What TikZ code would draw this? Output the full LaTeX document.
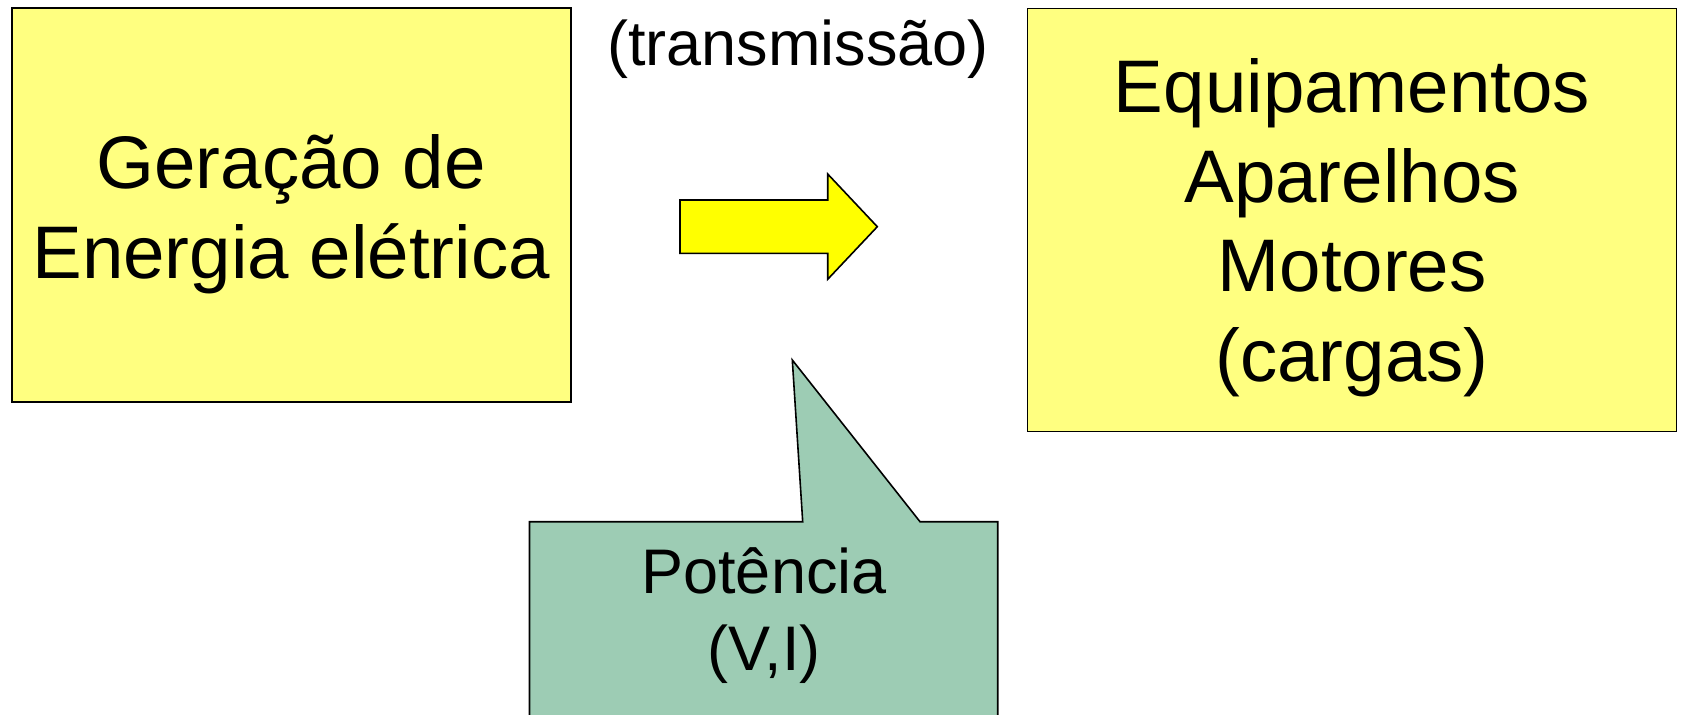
\documentclass[tikz,border=0pt]{standalone}
\usepackage{fontspec}
\setmainfont{Liberation Sans}
\definecolor{boxyellow}{HTML}{FFFF80}
\definecolor{arrowyellow}{HTML}{FFFF00}
\definecolor{calloutgreen}{HTML}{9DCCB4}
\tikzset{
  bigbox/.style={draw=black, line width=1.6pt, fill=boxyellow, inner sep=0pt},
  boxtext/.style={font=\fontsize{74.5}{89.5}\selectfont, align=center, inner sep=0pt, anchor=base},
  labeltext/.style={font=\fontsize{63}{77}\selectfont, align=center, inner sep=0pt, anchor=base}
}
\begin{document}
\begin{tikzpicture}[x=1pt, y=-1pt]
  \useasboundingbox (0,0) rectangle (1682,715);
  \clip (0,0) rectangle (1682,715);

  % source and loads
  \node[bigbox, minimum width=559pt, minimum height=394pt] (gen) at (291.2,204.7) {};
  \node[boxtext] (gentext) at (291.2,278) {Geração de\\Energia elétrica};

  \node[bigbox, minimum width=649pt, minimum height=423pt] (loads) at (1352.1,219.9) {};
  \node[boxtext] (loadstext) at (1352.1,381) {Equipamentos\\Aparelhos\\Motores\\(cargas)};

  % block arrow between them
  \coordinate (arrowtail) at (680,226.7);
  \coordinate (arrowtip) at (877.3,226.7);
  \draw[line width=1.6pt, fill=arrowyellow, line join=miter]
    (arrowtail |- 0,200) -- (827.7,200) -- (827.7,174) -- (arrowtip)
    -- (827.7,279.3) -- (827.7,253.3) -- (arrowtail |- 0,253.3) -- cycle;

  \node[labeltext] (trans) at (798,65) {(transmissão)};

  % callout with its pointer
  \coordinate (ptr) at (792.3,360);
  \draw[line width=1.6pt, fill=calloutgreen, line join=miter]
    (529.5,521.7) -- (802.7,521.7) -- (ptr) -- (920,521.7) -- (997.7,521.7)
    -- (997.7,760) -- (529.5,760) -- cycle;
  \node[labeltext] (power) at (764,670) {Potência\\(V,I)};
\end{tikzpicture}
\end{document}
